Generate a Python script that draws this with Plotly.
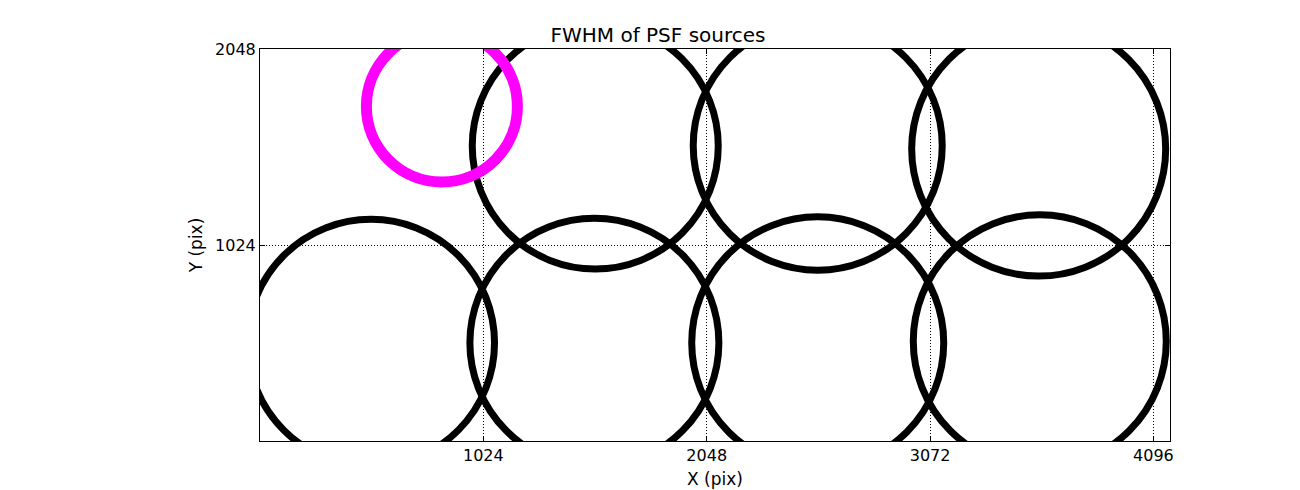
import plotly.graph_objects as go

# PSF source positions (pix) and apparent FWHM marker diameters (px)
src_x = [509, 1533, 2557, 3575, 1537, 2557, 3570]
src_y = [513, 513, 513, 521, 1541, 1543, 1525]
src_size = [247, 249, 252, 253, 246, 249, 254]

ref_x = [834]
ref_y = [1748]
ref_size = [151]

x_ticks = [1024, 2048, 3072, 4096]
y_ticks = [1024, 2048]

fig = go.Figure()
fig.add_trace(go.Scatter(
    x=src_x, y=src_y, mode="markers",
    marker=dict(symbol="circle-open", size=src_size, color="black", opacity=1,
                line=dict(width=7, color="black")),
    showlegend=False, hoverinfo="skip",
))
fig.add_trace(go.Scatter(
    x=ref_x, y=ref_y, mode="markers",
    marker=dict(symbol="circle-open", size=ref_size, color="#ff00ff", opacity=1,
                line=dict(width=11, color="#ff00ff")),
    showlegend=False, hoverinfo="skip",
))

axis_common = dict(
    showline=True, linecolor="black", linewidth=1, mirror="ticks",
    ticks="inside", ticklen=5, tickcolor="black", tickwidth=1,
    showgrid=True, gridcolor="black", griddash="1px,2px", gridwidth=1,
    zeroline=False, tickfont=dict(size=16, color="black"),
)

# the page body adds an 8px offset; margins compensate for it
fig.update_layout(
    width=1300, height=490,
    margin=dict(l=252, r=138, t=41, b=57),
    paper_bgcolor="white", plot_bgcolor="white",
    font=dict(family="DejaVu Sans", color="black"),
    title=dict(text="FWHM of PSF sources", x=0.5, xanchor="center",
               y=1 - 27 / 490, yanchor="middle", font=dict(size=20)),
    xaxis=dict(range=[0, 4172], tickvals=x_ticks,
               ticktext=[str(v) for v in x_ticks],
               title=dict(text="X (pix)", font=dict(size=17), standoff=8),
               **axis_common),
    yaxis=dict(range=[0, 2048], tickvals=y_ticks,
               ticktext=[str(v) for v in y_ticks],
               title=dict(text="Y (pix)", font=dict(size=17), standoff=8),
               **axis_common),
)

fig.write_html("out.html")
